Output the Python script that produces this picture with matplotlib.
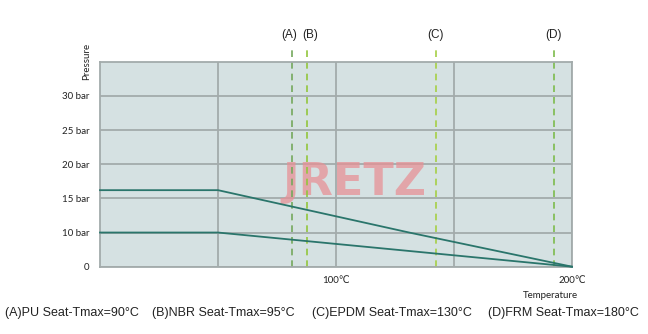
import numpy as np
import matplotlib
matplotlib.use("Agg")
import matplotlib.pyplot as plt
from matplotlib import transforms

# ---- data ----
upper_temp = [0, 50, 131, 200]
upper_pres = [16.2, 16.2, 10, 0]
lower_temp = [0, 50, 200]
lower_pres = [10, 10, 0]

seat_labels = ["(A)", "(B)", "(C)", "(D)"]
seat_pos = [81.4, 87.7, 142.2, 192.4]          # axis positions of dashed lines
seat_colors = ["#74a85c", "#92c63c", "#a6cf45", "#7dbb4c"]
label_shift_px = [-3, 3, 0, -1]
legend_texts = ["(A)PU Seat-Tmax=90°C", "(B)NBR Seat-Tmax=95°C",
                "(C)EPDM Seat-Tmax=130°C", "(D)FRM Seat-Tmax=180°C"]

ytick_vals = [0, 10, 15, 20, 25, 30]
ytick_labels = ["0", "10 bar", "15 bar", "20 bar", "25 bar", "30 bar"]
xtick_vals = [50, 100, 150, 200]
xtick_labels = ["", "100℃", "", "200℃"]

grid_c = "#a3abab"
line_c = "#2a756b"
txt_c = "#222222"
tick_fam = ["Lato", "DejaVu Sans"]

fig = plt.figure(figsize=(6.48, 3.34), dpi=100)
ax = fig.add_axes([100/648, 1-266.7/334, 472/648, 205/334])
ax.set_facecolor("#d5e1e2")


def fwd(y):
    y = np.asarray(y, dtype=float)
    return np.where(y <= 10, y / 2.0, y - 5.0)


def inv(p):
    p = np.asarray(p, dtype=float)
    return np.where(p <= 5, p * 2.0, p + 5.0)


ax.set_yscale("function", functions=(fwd, inv))
ax.set_xlim(0, 200)
ax.set_ylim(0, 35)

ax.set_yticks(ytick_vals)
ax.set_yticklabels(ytick_labels, family=tick_fam, fontsize=7)
ax.set_xticks(xtick_vals)
ax.set_xticklabels(xtick_labels, family=tick_fam, fontsize=7)
ax.tick_params(length=0, colors=txt_c)
ax.tick_params(axis="y", pad=7.5)
ax.tick_params(axis="x", pad=7)
ax.grid(True, color=grid_c, linewidth=1.3)
ax.set_axisbelow(True)
for s in ax.spines.values():
    s.set_color(grid_c)
    s.set_linewidth(1.3)

# watermark
ax.text(0.539, 0.41, "JRETZ", transform=ax.transAxes, ha="center", va="center",
        fontsize=32, fontweight="bold", color="#e88f94",
        alpha=0.72, zorder=2.2)

ax.plot(upper_temp, upper_pres, color=line_c, lw=1.3, zorder=3, clip_on=False)
ax.plot(lower_temp, lower_pres, color=line_c, lw=1.3, zorder=3, clip_on=False)

for x, c, lab, sh in zip(seat_pos, seat_colors, seat_labels, label_shift_px):
    ax.axvline(x, ymin=0, ymax=1.075, color=c, lw=1.2, ls=(0, (4, 3)),
               clip_on=False, zorder=2.5)
    tr = transforms.offset_copy(ax.get_xaxis_transform(), fig=fig,
                                x=sh, y=0, units="dots")
    ax.text(x, 1.13, lab, transform=tr, ha="center",
            va="center", fontsize=8.5, family="Liberation Sans", color=txt_c)

fig.text(87/648, 1-61/334, "Pressure", rotation=90, ha="center", va="center",
         fontsize=7, family=tick_fam, color=txt_c)
fig.text(550/648, 1-295/334, "Temperature", ha="center", va="center",
         fontsize=7, family=tick_fam, color=txt_c)

leg_x = [5, 152, 312, 488]
for x, t in zip(leg_x, legend_texts):
    fig.text(x/648, 1-313/334, t, ha="left", va="center", fontsize=9,
             family="Liberation Sans", color=txt_c)

fig.savefig("out.png", dpi=100)
